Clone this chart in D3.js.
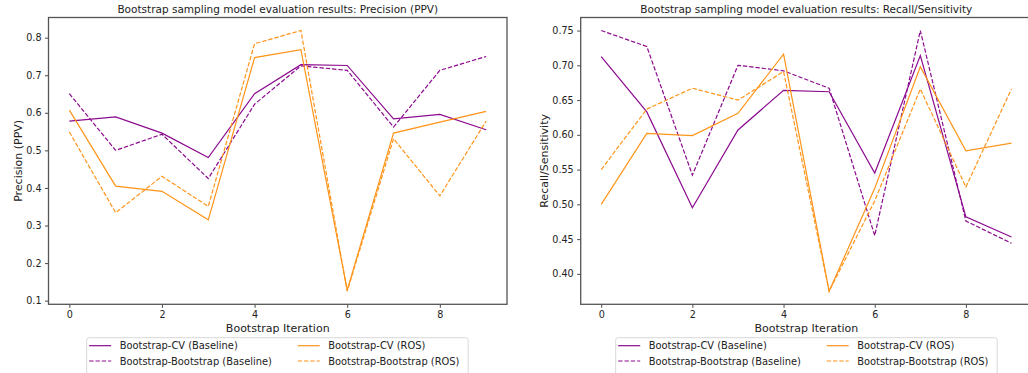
<!DOCTYPE html>
<html>
<head>
<meta charset="utf-8">
<script src="https://cdn.jsdelivr.net/npm/d3@7"></script>
<style>
body { margin: 0; background: #fff; }
svg text { font-family: "DejaVu Sans", sans-serif; fill: #222; }
</style>
</head>
<body>
<div id="chart"></div>
<script>
var width = 1028;
var height = 373;

var iterations = [0, 1, 2, 3, 4, 5, 6, 7, 8, 9];
var xTicks = [0, 2, 4, 6, 8];

var seriesNames = ['Bootstrap-CV (Baseline)', 'Bootstrap-Bootstrap (Baseline)', 'Bootstrap-CV (ROS)', 'Bootstrap-Bootstrap (ROS)'];

// precision (PPV)
var precCvBase = [0.578, 0.589, 0.546, 0.481, 0.651, 0.728, 0.726, 0.584, 0.596, 0.555];
var precBbBase = [0.651, 0.500, 0.543, 0.425, 0.623, 0.725, 0.713, 0.562, 0.713, 0.750];
var precCvRos = [0.607, 0.405, 0.391, 0.315, 0.747, 0.768, 0.128, 0.546, 0.575, 0.604];
var precBbRos = [0.549, 0.334, 0.431, 0.351, 0.784, 0.819, 0.125, 0.531, 0.379, 0.578];
var precTicks = [0.1, 0.2, 0.3, 0.4, 0.5, 0.6, 0.7, 0.8];

// recall / sensitivity
var recCvBase = [0.7125, 0.633, 0.495, 0.607, 0.664, 0.662, 0.545, 0.714, 0.482, 0.453];
var recBbBase = [0.750, 0.727, 0.542, 0.700, 0.692, 0.667, 0.455, 0.750, 0.476, 0.444];
var recCvRos = [0.500, 0.602, 0.599, 0.631, 0.716, 0.375, 0.523, 0.698, 0.577, 0.588];
var recBbRos = [0.550, 0.637, 0.667, 0.650, 0.691, 0.375, 0.505, 0.666, 0.525, 0.666];
var recTicks = [0.40, 0.45, 0.50, 0.55, 0.60, 0.65, 0.70, 0.75];

var colors = ['#8b0a8e', '#8b0a8e', '#ff9419', '#ff9419'];
var dashes = [null, '4.4,1.9', null, '4.4,1.9'];

var svg = d3.select('#chart')
	.append('svg')
	.attr('width', width)
	.attr('height', height);

var drawPanel = function(opts){
	var left = opts.left, right = opts.right, top = 17.5, bottom = 304.3;
	var g = svg.append('g');

	var x = d3.scaleLinear().domain([-0.45, 9.45]).range([left, right]);

	var all = d3.merge(opts.series);
	var ext = d3.extent(all);
	var pad = (ext[1] - ext[0]) * 0.05;
	var y = d3.scaleLinear().domain([ext[0] - pad, ext[1] + pad]).range([bottom, top]);

	g.append('rect')
		.attr('x', left)
		.attr('y', top)
		.attr('width', right - left)
		.attr('height', bottom - top)
		.attr('fill', '#fff');

	var line = d3.line()
		.x(function(d, i){ return x(iterations[i]); })
		.y(function(d){ return y(d); });

	opts.series.forEach(function(s, k){
		g.append('path')
			.datum(s)
			.attr('d', line)
			.attr('fill', 'none')
			.attr('stroke', colors[k])
			.attr('stroke-width', 1.2)
			.attr('stroke-dasharray', dashes[k]);
	});

	var xAxis = g.append('g')
		.attr('transform', 'translate(0,' + bottom + ')')
		.call(d3.axisBottom(x).tickValues(xTicks).tickSize(3.5).tickPadding(3.5).tickFormat(d3.format('d')));
	var yAxis = g.append('g')
		.attr('transform', 'translate(' + left + ',0)')
		.call(d3.axisLeft(y).tickValues(opts.ticks).tickSize(3.5).tickPadding(3.5).tickFormat(d3.format(opts.fmt)));

	[xAxis, yAxis].forEach(function(a){
		a.select('.domain').remove();
		a.selectAll('.tick line').attr('stroke', '#333').attr('stroke-width', 0.9);
		a.selectAll('.tick text').style('font-size', '9.6px').attr('fill', '#222');
	});

	g.append('rect')
		.attr('x', left)
		.attr('y', top)
		.attr('width', right - left)
		.attr('height', bottom - top)
		.attr('fill', 'none')
		.attr('stroke', '#555')
		.attr('stroke-width', 1.3);

	g.append('text')
		.attr('x', (left + right) / 2)
		.attr('y', 13)
		.attr('text-anchor', 'middle')
		.style('font-size', '10.5px')
		.text(opts.title);

	g.append('text')
		.attr('x', (left + right) / 2)
		.attr('y', 332)
		.attr('text-anchor', 'middle')
		.style('font-size', '11px')
		.text('Bootstrap Iteration');

	g.append('text')
		.attr('transform', 'translate(' + opts.ylabelX + ',' + ((top + bottom) / 2) + ') rotate(-90)')
		.attr('text-anchor', 'middle')
		.style('font-size', '11px')
		.text(opts.ylabel);

	// legend
	var lg = g.append('g').attr('transform', 'translate(' + opts.legendX + ',337.7)');
	lg.append('rect')
		.attr('width', 381.5)
		.attr('height', 50)
		.attr('rx', 2.5)
		.attr('fill', '#fff')
		.attr('stroke', '#d4d4d4')
		.attr('stroke-width', 0.9);

	seriesNames.forEach(function(name, k){
		var cx = k < 2 ? 2.5 : 211;
		var cy = k % 2 === 0 ? 8 : 23.3;
		lg.append('line')
			.attr('x1', cx)
			.attr('x2', cx + 22)
			.attr('y1', cy)
			.attr('y2', cy)
			.attr('stroke', colors[k])
			.attr('stroke-width', 1.2)
			.attr('stroke-dasharray', dashes[k]);
		lg.append('text')
			.attr('x', cx + 30.5)
			.attr('y', cy + 3.6)
			.style('font-size', '9.9px')
			.text(name);
	});
};

drawPanel({
	left: 48.5, right: 507,
	series: [precCvBase, precBbBase, precCvRos, precBbRos],
	ticks: precTicks, fmt: '.1f',
	title: 'Bootstrap sampling model evaluation results: Precision (PPV)',
	ylabel: 'Precision (PPV)', ylabelX: 21.5,
	legendX: 86.7
});

drawPanel({
	left: 580.7, right: 1032,
	series: [recCvBase, recBbBase, recCvRos, recBbRos],
	ticks: recTicks, fmt: '.2f',
	title: 'Bootstrap sampling model evaluation results: Recall/Sensitivity',
	ylabel: 'Recall/Sensitivity', ylabelX: 547.5,
	legendX: 615.7
});
</script>
</body>
</html>
